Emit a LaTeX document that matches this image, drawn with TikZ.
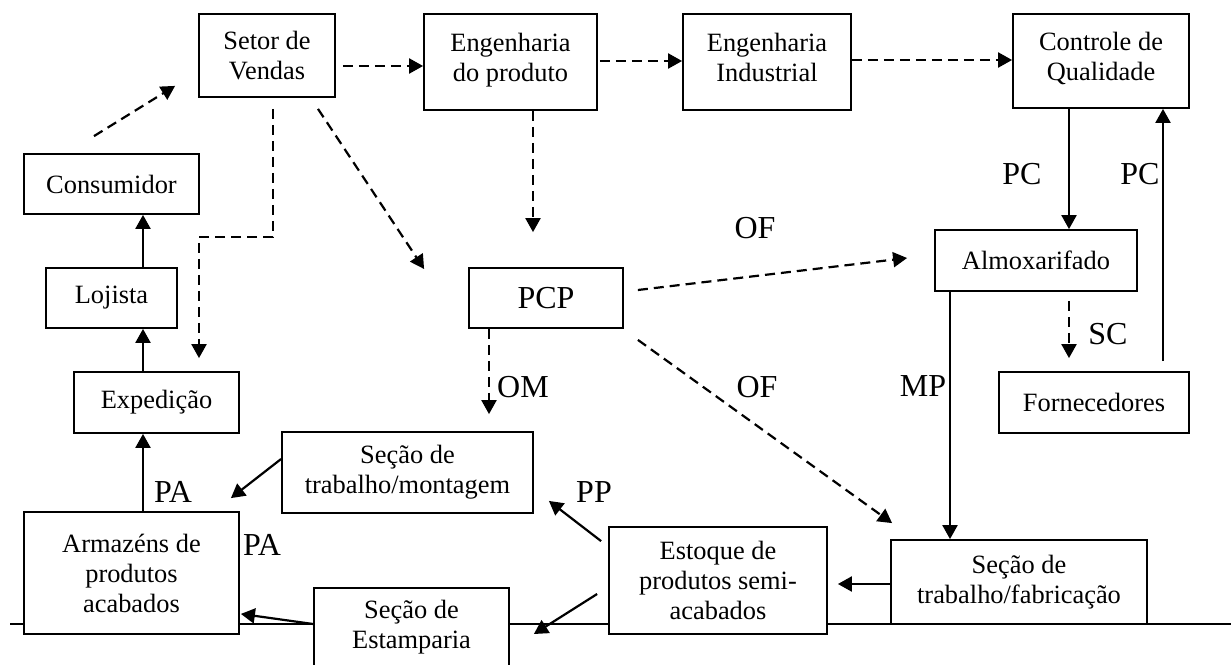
\documentclass[tikz,border=0pt]{standalone}
\usepackage{fontspec}
\setmainfont{Liberation Serif}
\usetikzlibrary{arrows.meta,positioning,calc}

\begin{document}
\begin{tikzpicture}[x=0.5pt, y=-0.5pt,
  box/.style={draw, line width=0.9pt, fill=white, align=center, inner sep=0pt, font=\fontsize{13.2}{15}\selectfont},
  lbl/.style={inner sep=0pt, font=\fontsize{16}{18}\selectfont},
  sline/.style={line width=1.1pt, -{Triangle[length=7pt,width=7.5pt]}},
  dline/.style={sline, dash pattern=on 5pt off 3pt}]
  \useasboundingbox (0,0) rectangle (1231,664);
  % page rule behind the boxes
  \draw[line width=0.7pt] (10,624) -- (1231,624);
  % boxes
  \node[box, minimum width=68pt, minimum height=41.5pt] (setor) at (267,55.5) {Setor de\\Vendas};
  \node[box, minimum width=86.5pt, minimum height=48pt] (engp) at (510.5,62) {Engenharia\\do produto\\[-10pt]\mbox{}};
  \node[box, minimum width=84pt, minimum height=48pt] (engi) at (767,62) {Engenharia\\Industrial\\[-10pt]\mbox{}};
  \node[box, minimum width=88pt, minimum height=47pt] (cq) at (1101,61) {Controle de\\Qualidade\\[-10pt]\mbox{}};
  \node[box, minimum width=87.5pt, minimum height=30pt] (cons) at (111.5,184) {Consumidor};
  \node[box, minimum width=65.5pt, minimum height=30pt] (loj) at (111.5,298) {Lojista};
  \node[box, minimum width=82.5pt, minimum height=30.5pt] (exped) at (156.5,402.5) {Expedição};
  \node[box, minimum width=107.5pt, minimum height=61pt] (arm) at (131.5,573) {Armazéns de\\produtos\\acabados};
  \node[box, minimum width=125.5pt, minimum height=40.5pt] (mont) at (407.5,472.5) {Seção de\\trabalho/montagem};
  \node[box, minimum width=97.5pt, minimum height=39pt] (estamp) at (411.5,627) {Seção de\\Estamparia};
  \node[box, minimum width=77pt, minimum height=30pt, font=\fontsize{16}{18}\selectfont] (pcp) at (546,298) {PCP};
  \node[box, minimum width=101pt, minimum height=30.5pt] (almox) at (1036,260.5) {Almoxarifado};
  \node[box, minimum width=95pt, minimum height=30.5pt] (forn) at (1094,402.5) {Fornecedores};
  \node[box, minimum width=109pt, minimum height=53.5pt] (estq) at (718,580.5) {Estoque de\\produtos semi-\\acabados};
  \node[box, minimum width=128pt, minimum height=42pt] (fab) at (1019,582) {Seção de\\trabalho/fabricação};
  % columns of the vertical connectors
  \coordinate (colx) at (143,0);
  \coordinate (pcx) at (1069,0);
  \coordinate (retx) at (1163,0);
  \coordinate (mpx) at (950,0);
  % dashed flows (information)
  \draw[dline] ($(cons.north)+(-17.5,-17)$) -- ($(setor.south west)+(-23,-12)$);
  \draw[dline] ($(setor.east)+(7,10.5)$) -- ($(engp.west)+(0,4)$);
  \draw[dline] ($(engp.east)+(2,-1)$) -- ($(engi.west)+(0,-1)$);
  \draw[dline] ($(engi.east)+(0,-2)$) -- ($(cq.west)+(0,-1)$);
  \draw[dline] ($(engp.south)+(22.5,0)$) -- ($(pcp.north)+(-13,-35)$);
  \draw[dline] ($(setor.south)+(51,11)$) -- ($(pcp.west)+(-44,-29)$);
  \draw[dline] ($(setor.south)+(6,11)$) -- ++(0,128) -| ($(exped.north)+(42.5,-13)$);
  \draw[dline] ($(pcp.south)+(-57,0)$) -- ($(mont.north)+(81.5,-17)$);
  \draw[dline] ($(pcp.south east)+(14,11)$) -- ($(fab.north west)+(2,-16)$);
  \draw[dline] ($(pcp.east)+(14,-8)$) -- ($(almox.west)+(-27,-2.5)$);
  \draw[dline] ($(almox.south -| pcx)+(0,9)$) -- ($(forn.north -| pcx)+(0,-13)$);
  % solid flows (material)
  \draw[sline] (loj.north -| colx) -- (cons.south -| colx);
  \draw[sline] (exped.north -| colx) -- (loj.south -| colx);
  \draw[sline] (arm.north -| colx) -- (exped.south -| colx);
  \draw[sline] ($(mont.west)+(0,-13.5)$) -- ($(arm.north east)+(-9,-13)$);
  \draw[sline] ($(estamp.west)+(0,-3)$) -- ($(arm.south east)+(1,-21)$);
  \draw[sline] (cq.south -| pcx) -- (almox.north -| pcx);
  \draw[sline] ($(forn.north -| retx)+(0,-10)$) -- (cq.south -| retx);
  \draw[sline] (almox.south -| mpx) -- (fab.north -| mpx);
  \draw[sline] ($(fab.west)+(0,2)$) -- ($(estq.east)+(10,3.5)$);
  \draw[sline] ($(estq.north west)+(-7,15)$) -- ($(mont.south east)+(15,-13)$);
  \draw[sline] ($(estq.west)+(-11,13.5)$) -- ($(estamp.east)+(24,7)$);
  % labels
  \node[lbl] (pa1) at (173,492) {PA};
  \node[lbl] (pa2) at (262,545) {PA};
  \node[lbl] (om) at (523,387) {OM};
  \node[lbl] (of1) at (755,228) {OF};
  \node[lbl] (of2) at (757,387) {OF};
  \node[lbl] (pc1) at (1022,174) {PC};
  \node[lbl] (pc2) at (1140,174) {PC};
  \node[lbl] (sc) at (1108,334) {SC};
  \node[lbl] (mp) at (923,386) {MP};
  \node[lbl] (pp) at (594,492) {PP};
\end{tikzpicture}
\end{document}
